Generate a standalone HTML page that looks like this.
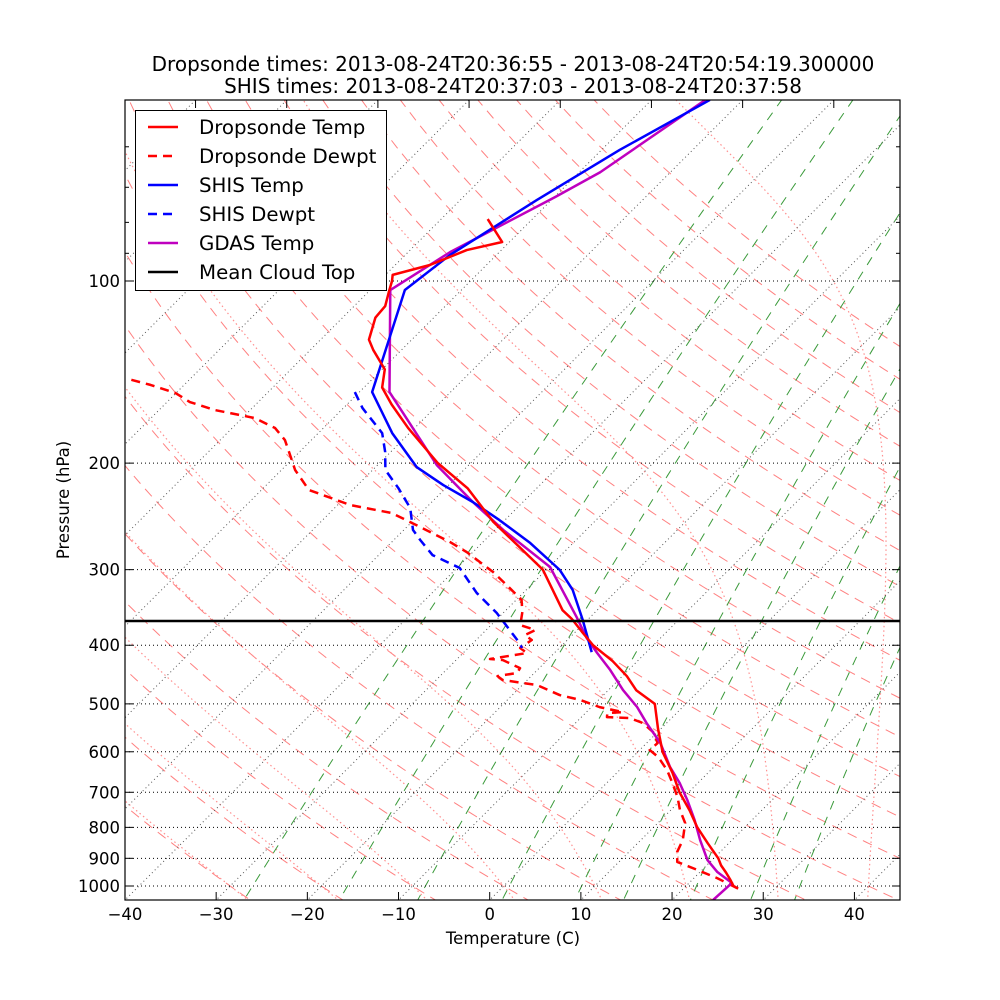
<!DOCTYPE html>
<html><head><meta charset="utf-8">
<style>
html,body{margin:0;padding:0;background:#fff;}
svg{display:block;font-family:"DejaVu Sans","Liberation Sans",sans-serif;}
</style></head>
<body>
<svg id="chart" width="1000" height="1000" viewBox="0 0 1000 1000" xmlns="http://www.w3.org/2000/svg">
<rect width="1000" height="1000" fill="#fff"/>
<defs><clipPath id="plotclip"><rect x="125" y="100" width="775" height="800"/></clipPath></defs>
<text x="513" y="71" font-size="20" text-anchor="middle">Dropsonde times: 2013-08-24T20:36:55 - 2013-08-24T20:54:19.300000</text>
<text x="513" y="93" font-size="20" text-anchor="middle">SHIS times: 2013-08-24T20:37:03 - 2013-08-24T20:37:58</text>
<g id="bg" clip-path="url(#plotclip)"></g>
<g id="series" clip-path="url(#plotclip)"></g>
<g id="axes"></g>
<text x="513" y="944" font-size="16.5" text-anchor="middle">Temperature (C)</text>
<text x="0" y="0" font-size="16.5" text-anchor="middle" transform="translate(69,500) rotate(-90)">Pressure (hPa)</text>
<g>
<rect x="135.5" y="110.5" width="251" height="180" fill="#fff" stroke="#000" stroke-width="1"/>
<line x1="148" y1="127" x2="178" y2="127" stroke="#f00" stroke-width="2.5"/>
<text x="199" y="134" font-size="19.8">Dropsonde Temp</text>
<line x1="148" y1="156" x2="178" y2="156" stroke="#f00" stroke-width="2.5" stroke-dasharray="9,6"/>
<text x="199" y="163" font-size="19.8">Dropsonde Dewpt</text>
<line x1="148" y1="185" x2="178" y2="185" stroke="#00f" stroke-width="2.5"/>
<text x="199" y="192" font-size="19.8">SHIS Temp</text>
<line x1="148" y1="214" x2="178" y2="214" stroke="#00f" stroke-width="2.5" stroke-dasharray="9,6"/>
<text x="199" y="221" font-size="19.8">SHIS Dewpt</text>
<line x1="148" y1="243" x2="178" y2="243" stroke="#bf00bf" stroke-width="2.5"/>
<text x="199" y="250" font-size="19.8">GDAS Temp</text>
<line x1="148" y1="272" x2="178" y2="272" stroke="#000" stroke-width="2.5"/>
<text x="199" y="279" font-size="19.8">Mean Cloud Top</text>
</g>
</svg>
<script>
// ---- data (pressure hPa, temperature C) ----
const dropP = [1010,1000,975,950,925,900,850,800,750,700,650,600,550,500,475,450,425,400,380,362,350,300,250,220,200,175,160,150,140,130,125,115,110,104,100,97.7,94.1,88.9,86.2,79.0];
const dropT = [26.0,25.2,24.1,22.9,21.6,20.5,17.7,14.8,12.1,9.0,6.1,2.7,-0.3,-3.4,-6.9,-9.5,-12.7,-16.6,-19.3,-21.8,-23.8,-30.4,-41.1,-47.6,-53.6,-60.7,-65.1,-68.0,-69.7,-73.1,-74.7,-76.4,-76.6,-77.8,-78.6,-79.2,-76.2,-73.8,-70.8,-74.9];
const dropDP = [1007.6,970,940.9,912.5,878.9,839.5,787,748.9,712.7,675.6,643.2,612.1,596,580.3,556.6,537.9,527.8,525.8,517.8,515.9,506.2,492.6,483.5,465.4,456.6,449.8,444.6,436.4,423.1,421.5,412,404.2,392.1,384.7,377.5,370.4,352.5,336.8,321.8,302.7,280.5,270.1,253.1,241.8,234.6,221.5,205.3,193.9,183.2,175,168.5,163.4,158.5,153.1,148.5,145.2];
const dropTd = [25.8,22.5,19.5,16.4,15.3,14.6,13.0,11.0,9.3,7.2,5.2,2.8,1.1,1.2,-0.5,-2.6,-4.6,-7.2,-7.6,-6.0,-9.1,-12.0,-14.8,-18.4,-22.7,-23.7,-21.9,-22.1,-24.9,-26.4,-23.0,-24.3,-23.9,-25.2,-24.6,-26.8,-28.0,-29.4,-32.0,-35.6,-40.7,-43.6,-49.2,-53.2,-58.6,-64.8,-68.5,-70.7,-72.9,-75.3,-78.6,-83.9,-87.5,-90.1,-93.7,-96.8];
const shisP = [50.2,60.7,73.5,90.6,103.5,152.6,178.4,203,217.4,231.9,248.4,271.1,300.4,324.1,363.4,410.6];
const shisT = [-63.6,-68.0,-71.6,-75.1,-76.2,-68.6,-61.9,-55.5,-50.6,-45.5,-40.6,-34.7,-28.5,-24.9,-20.5,-16.0];
const shisDP = [152.6,162.2,178.4,191.7,205.3,219.9,237.3,257.9,268,283.8,298.1,312,327.8,353.8,396.7,404.2];
const shisTd = [-70.5,-67.9,-63.0,-60.6,-58.6,-55.2,-51.7,-49.0,-47.1,-44.1,-39.7,-37.5,-35.1,-30.7,-24.9,-24.1];
const gdasP = [1054.7,988.6,948.2,905.9,839.5,777.9,720.8,675.6,635.9,580.3,537.9,506,474.4,439.6,412,389.1,359.3,297,257.9,231.9,201.5,152.6,103.5,89.6,72.6,66.1,50.2];
const gdasT = [24.5,24.7,21.9,19.5,16.5,13.7,10.7,8.0,5.2,1.5,-2.2,-5.0,-8.4,-12.0,-15.3,-18.1,-21.5,-29.9,-39.1,-45.5,-53.5,-66.7,-77.8,-75.4,-69.9,-67.7,-64.1];
const cloudTopP = [364.8];
const xTickLabels = [-40,-30,-20,-10,0,10,20,30,40];
const yTickLabels = [100,200,300,400,500,600,700,800,900,1000];
const mixingRatios = [0.0004,0.001,0.002,0.004,0.007,0.01,0.016,0.024,0.032];
const dryT0 = [-30,-20,-10,0,10,20,30,40,50,60,70,80,90,100,110,120,130,140,150,160,170,180,190];
const moistT0 = [-30,-20,-10,0,10,20,30,40];

// ---- axis functions ----
const PX = 9.118, X0 = 489.7, YB = 900;
function yOf(p){ return 281 + 605*Math.log10(p/100); }
function xOf(T,p){ return X0 + PX*T + (YB - yOf(p)); }
const NS='http://www.w3.org/2000/svg';
function mk(tag, attrs, parent){ const e=document.createElementNS(NS,tag); for(const k in attrs) e.setAttribute(k,attrs[k]); parent.appendChild(e); return e; }
function pathFrom(ps, ts){ let d=''; for(let i=0;i<ps.length;i++){ d+=(i?'L':'M')+xOf(ts[i],ps[i]).toFixed(2)+','+yOf(ps[i]).toFixed(2);} return d; }
const bg=document.getElementById('bg'), ser=document.getElementById('series'), ax=document.getElementById('axes');
const pGrid=[]; for(let p=45;p<=1060;p+=5) pGrid.push(p);

dryT0.forEach(t0=>{
  const ts=pGrid.map(p=>(t0+273.15)*Math.pow(p/1000,0.286)-273.15);
  const e=mk('path',{d:pathFrom(pGrid,ts),fill:'none',stroke:'#ff8080','stroke-width':1,'stroke-dasharray':'10,7'},bg);
  
  
});
function dTdp(p,T){ const es=6.112*Math.exp(17.67*(T-273.15)/(T-29.65)); const rs=0.622*es/Math.max(p-es,1e-3);
  const num=(287.04*T+2.501e6*rs)/p; const den=1005.7+2.501e6*2.501e6*rs*0.622/(287.04*T*T); return num/den; }
function moist(t0){ const up=[],dn=[]; let T=t0+273.15;
  for(let p=1000;p>=45;p-=2){ up.push([p,T-273.15]); const k1=dTdp(p,T), k2=dTdp(p-1,T-k1); T-=2*k2; }
  T=t0+273.15; for(let p=1000;p<=1060;p+=2){ dn.push([p,T-273.15]); const k2=dTdp(p+1,T+dTdp(p,T)); T+=2*k2; }
  const all=dn.reverse().concat(up); return [all.map(a=>a[0]),all.map(a=>a[1])]; }
moistT0.forEach(t0=>{ const r=moist(t0);
  const e=mk('path',{d:pathFrom(r[0],r[1]),fill:'none',stroke:'#ff9090','stroke-width':1.2,'stroke-dasharray':'1.5,3'},bg);
  
  
});
mixingRatios.forEach(w=>{
  const ts=pGrid.map(p=>{ const e=w*p/(0.622+w); const l=Math.log(e/6.112); return 243.5*l/(17.67-l); });
  const e=mk('path',{d:pathFrom(pGrid,ts),fill:'none',stroke:'#3a9a3a','stroke-width':1,'stroke-dasharray':'9,8'},bg);
  
  
});
for(let t=-140;t<=40;t+=10){
  const e=mk('line',{x1:xOf(t,1060),y1:yOf(1060),x2:xOf(t,45),y2:yOf(45),stroke:'#555','stroke-width':1,'stroke-dasharray':'1,3'},bg);
  
  
}
yTickLabels.forEach(p=>{
  const e=mk('line',{x1:125,y1:yOf(p),x2:900,y2:yOf(p),stroke:'#000','stroke-width':1,'stroke-dasharray':'1,3'},bg);
  
  
});

function series(ps,ts,color,dash,name){
  const a={d:pathFrom(ps,ts),fill:'none',stroke:color,'stroke-width':2.5,'stroke-linejoin':'round'}; if(dash) a['stroke-dasharray']=dash;
  const e=mk('path',a,ser);
  
  
}
series(dropDP,dropTd,'#f00','9,6','dropsonde-dewpt-line');
series(shisDP,shisTd,'#00f','9,6','shis-dewpt-line');
series(gdasP,gdasT,'#bf00bf',null,'gdas-temp-line');
series(shisP,shisT,'#00f',null,'shis-temp-line');
series(dropP,dropT,'#f00',null,'dropsonde-temp-line');
cloudTopP.forEach(p=>{
  const e=mk('line',{x1:125,y1:yOf(p),x2:900,y2:yOf(p),stroke:'#000','stroke-width':2.5},ser);
  
  
});

const fr=mk('rect',{x:125,y:100,width:775,height:800,fill:'none',stroke:'#000','stroke-width':1.2},ax);


xTickLabels.forEach(t=>{
  const x=X0+PX*t;
  mk('line',{x1:x,y1:900,x2:x,y2:892,stroke:'#000','stroke-width':1},ax);
  const tx=mk('text',{x:x,y:920,'font-size':16.5,'text-anchor':'middle'},ax);
  tx.textContent=(t<0?'\u2212'+(-t):String(t));
  
  
});
for(let t=-120;t<=-50;t+=10){ const x=X0+PX*t+800; mk('line',{x1:x,y1:100,x2:x,y2:108,stroke:'#000','stroke-width':1},ax); }
yTickLabels.forEach(p=>{
  const y=yOf(p);
  mk('line',{x1:125,y1:y,x2:133,y2:y,stroke:'#000','stroke-width':1},ax);
  mk('line',{x1:900,y1:y,x2:892,y2:y,stroke:'#000','stroke-width':1},ax);
  const tx=mk('text',{x:120,y:y+6,'font-size':16.5,'text-anchor':'end'},ax);
  tx.textContent=String(p);
  
  
});
[60,70,80,90].forEach(p=>{ const y=yOf(p);
  mk('line',{x1:125,y1:y,x2:129,y2:y,stroke:'#000','stroke-width':1},ax);
  mk('line',{x1:900,y1:y,x2:896,y2:y,stroke:'#000','stroke-width':1},ax); });
</script>
</body></html>
